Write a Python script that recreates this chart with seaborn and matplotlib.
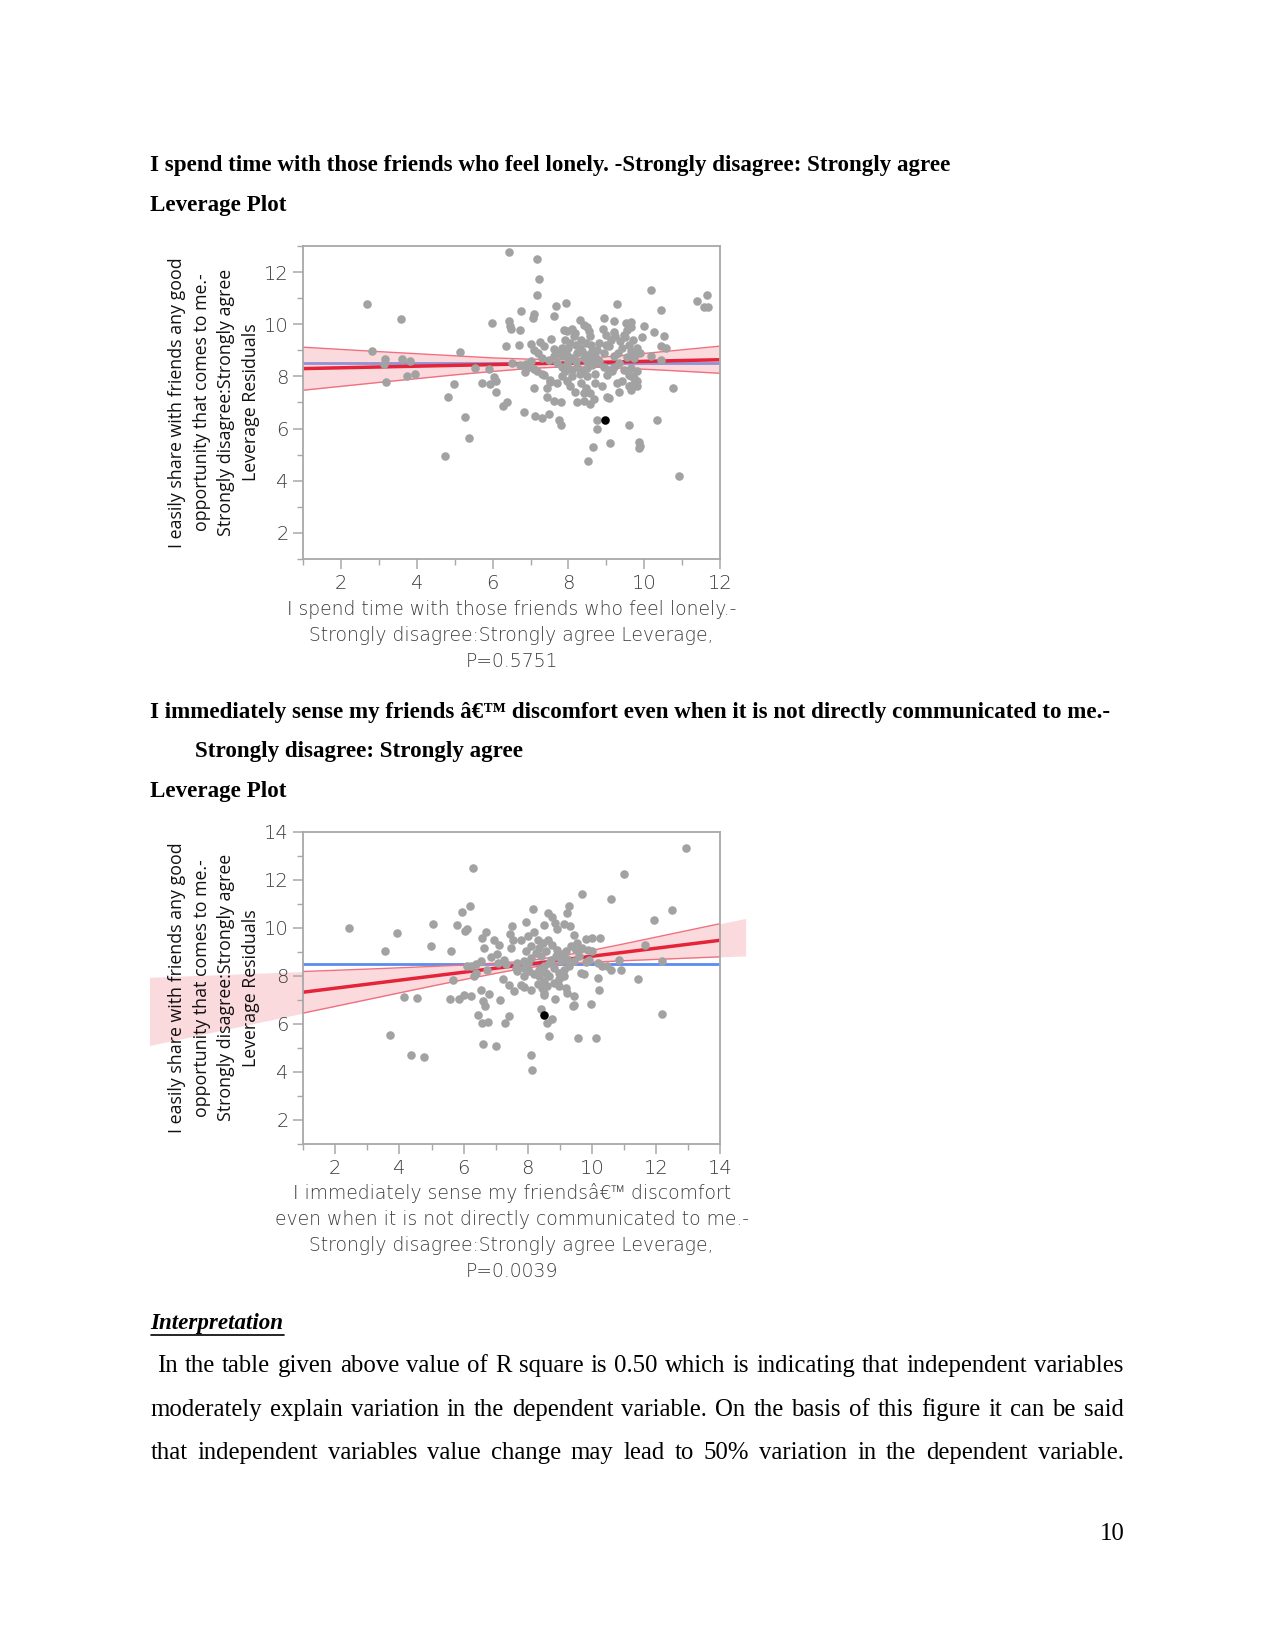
import matplotlib
matplotlib.use("Agg")
import matplotlib.pyplot as plt
import seaborn as sns
from matplotlib.ticker import MultipleLocator
from matplotlib.lines import Line2D

sns.set_theme(style="white")
plt.rcParams['font.family'] = ['Open Sans', 'DejaVu Sans']

# ---------------- data: plot 1 ----------------
p1_x = [6.44, 7.16, 7.23, 7.16, 2.69, 3.59, 10.17, 11.38, 11.67, 11.58, 11.68, 9.27, 10.45, 7.68, 7.93,
        6.75, 7.08, 7.06, 7.62, 5.98, 6.44, 6.46, 6.47, 6.72, 8.31, 8.95, 9.20, 9.64, 9.99, 10.26,
        10.52, 9.95, 10.44, 10.58, 10.17, 10.43, 10.77, 10.34, 10.93, 9.86, 9.89, 9.86, 9.60, 9.10, 8.74,
        8.76, 8.66, 8.51, 7.76, 7.80, 7.48, 7.30, 7.11, 6.83, 6.27, 6.38, 6.08, 5.28, 5.38, 4.75,
        4.83, 4.99, 5.14, 5.53, 5.90, 6.03, 5.73, 5.92, 6.09, 6.34, 6.51, 6.70, 2.81, 3.16, 3.12,
        3.60, 3.82, 3.75, 3.96, 3.17, 7.09, 7.00, 7.26, 6.73, 6.87, 6.95, 6.84, 7.17, 7.30, 7.43,
        7.50,
        7.35, 7.55, 7.61, 7.70, 7.83, 7.88, 7.96, 8.10, 8.18, 8.40, 8.49, 8.54, 8.58, 7.92, 8.05,
        8.14, 8.32, 8.45, 7.83, 7.96, 8.10, 8.23, 8.36, 8.49, 8.62, 8.76, 8.93, 9.07, 9.11, 9.24,
        9.37, 9.46, 9.55, 9.64, 9.51, 7.48, 7.61, 7.70, 7.83, 7.96, 8.10, 8.23, 8.36, 8.49, 8.62,
        8.76, 8.93, 9.07, 9.20, 9.33, 9.46, 9.64, 9.81, 7.35, 7.52, 7.70, 7.83, 7.96, 8.05, 8.18,
        8.32, 8.45, 8.58, 8.71, 8.89, 9.02, 9.15, 9.29, 9.42, 9.59, 9.68, 9.81, 9.73, 9.59, 7.43,
        7.61, 7.79, 8.23, 8.40, 8.58, 8.67, 9.02, 9.07, 8.40,
        7.90, 8.00, 8.20, 8.30, 8.40, 8.50, 8.60, 8.70, 8.80, 8.20, 8.00, 7.90, 8.10, 8.30, 8.50,
        8.70, 8.60, 8.80, 9.00, 9.20, 9.30, 9.40, 9.60, 9.70, 9.50, 9.80, 9.90, 9.20, 9.00, 8.90,
        7.00, 7.10, 7.20, 7.30, 7.10, 9.64, 9.55, 9.73, 9.64, 9.81, 9.64, 9.33, 9.81]
p1_y = [12.78, 12.49, 11.74, 11.12, 10.79, 10.22, 11.33, 10.91, 11.14, 10.65, 10.65, 10.76, 10.54, 10.69, 10.82,
        10.50, 10.41, 10.23, 10.33, 10.03, 10.12, 9.95, 9.80, 9.79, 10.18, 10.23, 10.12, 10.08, 9.92, 9.69,
        9.55, 9.51, 9.18, 9.09, 8.79, 8.64, 7.55, 6.33, 4.18, 5.50, 5.35, 5.24, 6.13, 5.44, 6.33,
        5.97, 5.29, 4.74, 6.31, 6.14, 6.56, 6.42, 6.50, 6.62, 6.85, 7.00, 7.42, 6.44, 5.64, 4.96,
        7.22, 7.72, 8.92, 8.31, 8.27, 7.96, 7.74, 7.72, 7.81, 9.15, 8.51, 9.22, 8.96, 8.67, 8.49,
        8.68, 8.58, 8.00, 8.09, 7.79, 7.55, 9.26, 9.31, 8.45, 8.49, 8.38, 8.17, 8.19, 8.10, 7.55,
        7.77,
        9.18, 9.44, 9.05, 8.90, 9.09, 9.79, 9.73, 9.82, 9.67, 9.99, 9.90, 9.73, 9.54, 9.41, 9.28,
        9.54, 9.41, 9.28, 8.77, 8.83, 8.71, 8.90, 8.96, 8.83, 8.96, 9.03, 8.90, 9.15, 9.41, 9.54,
        9.35, 9.60, 9.79, 9.90, 10.05, 8.64, 8.77, 8.51, 8.38, 8.45, 8.26, 8.38, 8.19, 8.32, 8.45,
        8.51, 8.38, 8.26, 8.38, 8.51, 8.26, 8.32, 8.19, 8.06, 7.87, 7.74, 8.00, 7.81, 7.62, 7.42,
        7.74, 7.55, 7.36, 7.74, 7.62, 8.06, 8.19, 7.74, 7.81, 7.62, 7.68, 7.62, 7.94, 8.06, 7.23,
        7.04, 7.00, 7.00, 7.04, 6.95, 7.13, 7.23, 7.17, 7.36,
        9.00, 9.10, 9.20, 9.10, 8.70, 8.60, 8.70, 8.80, 8.60, 8.60, 8.60, 8.20, 8.00, 8.10, 8.00,
        8.10, 9.20, 9.30, 9.20, 8.80, 8.90, 9.10, 9.20, 9.40, 9.50, 9.10, 8.90, 9.70, 9.60, 9.80,
        8.60, 8.30, 8.90, 8.70, 9.00, 8.96, 8.74, 8.71, 8.00, 7.81, 7.49, 7.42, 8.90]
p1_hl_x = [8.97]
p1_hl_y = [6.33]
p1_mean = 8.51
p1_fit_x = [1.0, 12.0]
p1_fit_y = [8.30, 8.64]
p1_band_x = [1.0, 3.0, 5.0, 6.0, 7.0, 7.8, 8.6, 9.5, 10.5, 12.0]
p1_band_lo = [7.47, 7.77, 8.06, 8.19, 8.31, 8.36, 8.36, 8.31, 8.24, 8.12]
p1_band_hi = [9.12, 8.95, 8.79, 8.71, 8.66, 8.66, 8.71, 8.81, 8.95, 9.16]

# ---------------- data: plot 2 ----------------
p2_x = [12.95, 11.02, 6.29, 9.69, 10.59, 12.51, 11.94, 11.66, 12.18, 12.18, 11.45, 10.92, 10.84, 2.44, 3.54,
        3.92, 5.05, 4.99, 5.79, 5.96, 6.20, 6.11, 6.03, 5.61, 5.67, 4.13, 4.55, 3.71, 4.37, 4.77,
        5.57, 5.86, 6.02, 6.23, 6.55, 6.80, 6.62, 6.68, 7.15, 6.44, 6.59, 6.75, 7.42, 7.29, 6.62,
        7.02, 8.11, 8.12, 8.41, 8.76, 8.60, 8.67, 9.56, 10.14, 9.96, 9.46, 10.22, 10.18, 8.85, 8.51,
        8.17, 6.71, 6.59, 6.96, 7.09, 7.03, 6.85, 6.64, 7.52, 7.46, 7.53, 7.49, 7.94, 8.20, 8.51,
        8.64, 8.77, 9.30, 9.24, 9.14, 9.32, 9.45, 9.81, 10.02, 10.26, 8.86, 8.93,
        7.22, 7.42, 7.58, 7.79, 7.89, 7.68, 7.89, 8.10, 8.51, 8.61, 8.98, 9.19, 9.24, 9.45, 9.42,
        9.66, 9.76, 9.81, 10.18, 10.33, 10.47, 10.61, 6.23, 6.38, 6.54, 6.31, 6.38, 6.10, 6.73, 7.32,
        7.68, 8.00, 8.10, 8.25, 8.36, 8.49, 8.62, 8.77, 8.93, 9.09, 9.24, 7.89, 8.05, 8.20, 8.36,
        8.51, 8.67, 8.83, 8.98, 9.14, 9.29, 9.45, 7.94, 8.10, 8.31, 8.41, 8.57, 8.72, 8.88, 9.03,
        9.19, 9.35, 9.50, 9.61, 8.36, 8.51, 8.67, 8.83, 8.98, 9.14, 8.31, 8.46, 8.57, 7.79, 8.00,
        9.55, 9.71, 9.87, 10.02, 7.06, 7.27, 7.63, 7.89, 9.92]
p2_y = [13.31, 12.24, 12.48, 11.39, 11.19, 10.75, 10.32, 9.30, 8.62, 6.41, 7.88, 8.24, 8.68, 9.98, 9.04,
        9.80, 10.17, 9.24, 10.12, 10.64, 10.92, 9.95, 9.85, 9.04, 7.83, 7.12, 7.07, 5.54, 4.72, 4.64,
        7.02, 7.02, 7.21, 7.17, 7.43, 7.25, 6.96, 6.74, 6.99, 6.38, 6.05, 6.06, 6.34, 6.02, 5.18,
        5.08, 4.72, 4.09, 6.63, 6.19, 6.02, 5.48, 5.41, 5.41, 6.84, 6.77, 7.42, 7.90, 7.03, 7.20,
        10.79, 9.81, 9.58, 9.51, 9.29, 8.89, 8.77, 9.16, 10.06, 9.76, 9.51, 9.16, 10.23, 9.81, 10.13,
        10.60, 10.47, 10.89, 10.61, 10.17, 10.06, 9.71, 9.53, 9.58, 9.58, 10.20, 9.95,
        7.88, 7.61, 7.36, 7.61, 7.53, 8.19, 7.99, 7.43, 7.30, 7.57, 7.57, 7.50, 7.30, 7.16, 6.74,
        8.12, 8.06, 8.57, 8.54, 8.40, 8.43, 8.26, 8.40, 8.51, 8.61, 8.01, 8.12, 8.40, 8.24, 8.51,
        8.54, 8.54, 8.75, 8.95, 9.16, 9.37, 9.51, 9.30, 9.09, 8.89, 8.71, 8.33, 8.19, 8.06, 8.26,
        8.40, 8.54, 8.33, 8.12, 8.26, 8.40, 8.61, 9.02, 9.23, 9.51, 8.82, 9.02, 8.68, 8.82, 8.61,
        9.02, 9.23, 9.09, 8.82, 7.99, 7.78, 7.99, 7.71, 7.85, 7.99, 7.64, 7.50, 8.12, 9.51, 9.65,
        9.37, 9.16, 9.09, 9.02, 8.54, 8.68, 8.33, 8.61, 8.68]
p2_hl_x = [8.50]
p2_hl_y = [6.37]
p2_mean = 8.51
p2_fit_x = [1.0, 14.0]
p2_fit_y = [7.32, 9.48]
p2_band_x = [-3.8, 1.0, 3.0, 5.0, 6.0, 7.0, 7.6, 8.27, 9.0, 9.5, 10.0, 11.0, 12.5, 14.0, 14.8]
p2_band_lo = [5.10, 6.45, 7.01, 7.57, 7.84, 8.10, 8.25, 8.38, 8.47, 8.52, 8.56, 8.63, 8.71, 8.79, 8.83]
p2_band_hi = [7.94, 8.18, 8.28, 8.39, 8.45, 8.53, 8.58, 8.68, 8.82, 8.94, 9.06, 9.33, 9.75, 10.17, 10.39]

# ---------------- text ----------------
ylab = "I easily share with friends any good\nopportunity that comes to me.-\nStrongly disagree:Strongly agree\nLeverage Residuals"
xlab1 = "I spend time with those friends who feel lonely.-\nStrongly disagree:Strongly agree Leverage,\nP=0.5751"
xlab2 = ("I immediately sense my friendsâ€™ discomfort\neven when it is not directly communicated to me.-\n"
         "Strongly disagree:Strongly agree Leverage,\nP=0.0039")
head1 = "I spend time with those friends who feel lonely. -Strongly disagree: Strongly agree"
head2a = "I immediately sense my friends â€™ discomfort even when it is not directly communicated to me.-"
head2b = "Strongly disagree: Strongly agree"
lev = "Leverage Plot"
interp = "Interpretation"
para = [" In the table given above value of R square is 0.50 which is indicating that independent variables",
        "moderately explain variation in the dependent variable. On the basis of this figure it can be said",
        "that independent variables value change may lead to 50% variation in the dependent variable."]
page_no = "10"

# ---------------- figure ----------------
W, H = 1275, 1651
fig = plt.figure(figsize=(W / 100, H / 100), dpi=100)
fig.patch.set_facecolor("white")
renderer = fig.canvas.get_renderer()


def fx(px):
    return px / W


def fy(py):
    return 1 - py / H


def text_width(s, size, **kw):
    t = fig.text(0, 0, s, fontsize=size, **kw)
    w = t.get_window_extent(renderer).width
    t.remove()
    return w


GRAY_PT = "#a2a2a2"
SPINE = "#a8a8a8"
THIN = dict(family=["DejaVu Sans", "Open Sans", "Noto Sans"], fontweight="ultralight")
THIN_COLOR = "#3c3c3c"
YLAB_KW = dict(family=["Open Sans", "DejaVu Sans"], fontweight="normal")

# font sizes fitted to widths measured on the reference
thin_size = 20 * 450 / text_width(xlab1.split("\n")[0], 20, **THIN)
ylab_size = 20 * 290 / text_width(ylab.split("\n")[0], 20, **YLAB_KW)


def leverage(top, bottom, xs, ys, hx, hy, mean_y, fit_x, fit_y, bx, blo, bhi,
             xlim, ylim, clip_fill, xlabel, xlab_y):
    ax = fig.add_axes([fx(303.3), fy(bottom), (720 - 303.3) / W, (bottom - top) / H])
    ax.set_facecolor("white")
    ax.set_axisbelow(False)
    ax.axhline(mean_y, color="#5b8cf0", lw=2.0, zorder=0.9)
    ax.fill_between(bx, blo, bhi, color="#f49aa6", alpha=0.36, lw=0, zorder=1, clip_on=clip_fill)
    ax.plot(bx, blo, color="#f07080", lw=1.0, zorder=1.1)
    ax.plot(bx, bhi, color="#f07080", lw=1.0, zorder=1.1)
    sns.lineplot(x=fit_x, y=fit_y, ax=ax, color="#e5243a", lw=2.5, zorder=1.3)
    sns.scatterplot(x=xs, y=ys, ax=ax, color=GRAY_PT, s=38, linewidth=0, zorder=3)
    sns.scatterplot(x=hx, y=hy, ax=ax, color="black", s=38, linewidth=0, zorder=3.1)
    ax.set_xlim(*xlim)
    ax.set_ylim(*ylim)
    for axis in (ax.xaxis, ax.yaxis):
        axis.set_major_locator(MultipleLocator(2))
        axis.set_minor_locator(MultipleLocator(1))
    ax.tick_params(which="both", bottom=True, left=True, top=False, right=False,
                   direction="out", color=SPINE)
    ax.tick_params(which="major", length=7, width=1.1, labelcolor=THIN_COLOR,
                   labelsize=thin_size * 1.04, pad=3.5)
    ax.tick_params(which="minor", length=4.5, width=1.0)
    for lbl in ax.get_xticklabels() + ax.get_yticklabels():
        lbl.set_family(THIN["family"])
        lbl.set_fontweight(THIN["fontweight"])
    for s in ax.spines.values():
        s.set_visible(True)
        s.set_color(SPINE)
        s.set_linewidth(1.3)
        s.set_zorder(2.6)
    ax.set_xlabel(xlabel, fontsize=thin_size, color=THIN_COLOR, linespacing=1.45, **THIN)
    ax.xaxis.set_label_coords(0.5, xlab_y)
    ax.xaxis.label.set_va("center")
    ax.set_ylabel(ylab, fontsize=ylab_size, color="#111111", linespacing=1.48, **YLAB_KW)
    ax.yaxis.set_label_coords(-0.214, 0.5)
    ax.yaxis.label.set_va("center")
    return ax


leverage(246, 559, p1_x, p1_y, p1_hl_x, p1_hl_y, p1_mean, p1_fit_x, p1_fit_y,
         p1_band_x, p1_band_lo, p1_band_hi, (1, 12), (1, 13), True, xlab1, -0.244)
leverage(831.7, 1144, p2_x, p2_y, p2_hl_x, p2_hl_y, p2_mean, p2_fit_x, p2_fit_y,
         p2_band_x, p2_band_lo, p2_band_hi, (1, 14), (1, 14), False, xlab2, -0.282)

# ---------------- document text ----------------
SERIF = ["Liberation Serif", "DejaVu Serif"]
DY = 2.5

hsize = 20 * (947.5 - 150.5) / text_width(head1, 20, family=SERIF, fontweight="bold")
hkw = dict(fontsize=hsize, family=SERIF, fontweight="bold", va="center", ha="left", color="black")
fig.text(fx(150.5), fy(163.2 + DY), head1, **hkw)
fig.text(fx(150.5), fy(203.2 + DY), lev, **hkw)
fig.text(fx(150.5), fy(709.6 + DY), head2a, **hkw)
fig.text(fx(194.8), fy(748.6 + DY), head2b, **hkw)
fig.text(fx(150.5), fy(788.5 + DY), lev, **hkw)

ti = fig.text(fx(150.5), fy(1321.3 + DY), interp, fontsize=hsize, family=SERIF, fontweight="bold",
              style="italic", va="center", ha="left", color="black")
bb = ti.get_window_extent(renderer)
fig.add_artist(Line2D([bb.x0 / W, bb.x1 / W], [fy(1334.5)] * 2, color="black", lw=1.2))

# justified paragraph (words placed on a common baseline)
starts = [157.0, 150.5, 150.5]
end = 1123.5
psize = min(20 * (end - s0) / text_width(l.strip(), 20, family=SERIF)
            for l, s0 in zip(para, starts)) * 0.985
baselines = [1372.0, 1416.3, 1459.4]
for line, x0, yy in zip(para, starts, baselines):
    words = line.split()
    ts = [fig.text(0, fy(yy), w, fontsize=psize, family=SERIF, va="baseline", ha="left", color="black")
          for w in words]
    ws = [t.get_window_extent(renderer).width for t in ts]
    gap = (end - x0 - sum(ws)) / (len(words) - 1)
    x = x0
    for t, w in zip(ts, ws):
        t.set_x(fx(x))
        x += w + gap

fig.text(fx(1124.4), fy(1539.5), page_no, fontsize=psize, family=SERIF, va="baseline",
         ha="right", color="black")

fig.savefig("out.png", dpi=100, facecolor="white")
